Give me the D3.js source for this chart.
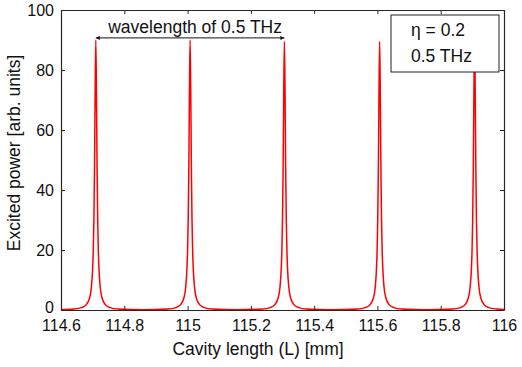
<!DOCTYPE html>
<html>
<head>
<meta charset="utf-8">
<script src="https://cdn.jsdelivr.net/npm/d3@7"></script>
<style>
  html, body { margin: 0; padding: 0; background: #fff; }
  svg { display: block; font-family: "Liberation Sans", Arial, Helvetica, sans-serif; }
</style>
</head>
<body>
<svg id="chart" width="522" height="367"></svg>
<script>
// ---- data ----
const cavityLength = [
  114.600,
  114.640, 114.665, 114.680, 114.690, 114.696, 114.700, 114.702, 114.704, 114.706, 114.708,
  114.710,
  114.712, 114.714, 114.716, 114.718, 114.720, 114.724, 114.730, 114.740, 114.755, 114.780,
  114.859,
  114.938, 114.963, 114.978, 114.988, 114.994, 114.998, 115.000, 115.002, 115.004, 115.006,
  115.008,
  115.010, 115.012, 115.014, 115.016, 115.018, 115.022, 115.028, 115.038, 115.053, 115.078,
  115.157,
  115.236, 115.261, 115.276, 115.286, 115.292, 115.296, 115.298, 115.300, 115.302, 115.304,
  115.306,
  115.308, 115.310, 115.312, 115.314, 115.316, 115.320, 115.326, 115.336, 115.351, 115.376,
  115.456,
  115.537, 115.562, 115.577, 115.587, 115.593, 115.597, 115.599, 115.601, 115.603, 115.605,
  115.607,
  115.609, 115.611, 115.613, 115.615, 115.617, 115.621, 115.627, 115.637, 115.652, 115.677,
  115.757,
  115.837, 115.862, 115.877, 115.887, 115.893, 115.897, 115.899, 115.901, 115.903, 115.905,
  115.907,
  115.909, 115.911, 115.913, 115.915, 115.917, 115.921, 115.927, 115.937, 115.952, 115.977,
  116.000
];
const excitedPower = [
  0.13,
  0.33, 0.8, 1.8, 3.9, 7.6, 13.8, 19.8, 30.1, 47.7, 73.7,
  90.0,
  73.7, 47.7, 30.1, 19.8, 13.8, 7.6, 3.9, 1.8, 0.8, 0.33,
  0.07,
  0.33, 0.8, 1.8, 3.9, 7.6, 13.8, 19.8, 30.1, 47.7, 73.7,
  90.0,
  73.7, 47.7, 30.1, 19.8, 13.8, 7.6, 3.9, 1.8, 0.8, 0.33,
  0.07,
  0.33, 0.8, 1.8, 3.9, 7.6, 13.7, 19.7, 29.9, 47.4, 73.3,
  89.5,
  73.3, 47.4, 29.9, 19.7, 13.7, 7.6, 3.9, 1.8, 0.8, 0.33,
  0.07,
  0.33, 0.8, 1.8, 3.9, 7.6, 13.7, 19.7, 29.9, 47.4, 73.3,
  89.5,
  73.3, 47.4, 29.9, 19.7, 13.7, 7.6, 3.9, 1.8, 0.8, 0.33,
  0.07,
  0.33, 0.8, 1.8, 3.9, 7.6, 13.7, 19.7, 29.9, 47.4, 73.3,
  89.5,
  73.3, 47.4, 29.9, 19.7, 13.7, 7.6, 3.9, 1.8, 0.8, 0.33,
  0.19
];
const xTicks = [114.6, 114.8, 115, 115.2, 115.4, 115.6, 115.8, 116];
const xTickLabels = ["114.6", "114.8", "115", "115.2", "115.4", "115.6", "115.8", "116"];
const yTicks = [0, 20, 40, 60, 80, 100];
const arrowSpan = [114.710, 115.306];   // peak-to-peak span annotated
const arrowLevel = [90.7];
const legendLines = ["\u03b7 = 0.2", "0.5 THz"];

// ---- layout ----
const svg = d3.select("#chart");
const m = { left: 61, right: 504, top: 10, bottom: 310 };
const x = d3.scaleLinear().domain([114.6, 116]).range([m.left, m.right]);
const y = d3.scaleLinear().domain([0, 100]).range([m.bottom, m.top]);
const axisColor = "#262626";
const tickLen = 4;
const labelSize = "17.5px";

const defs = svg.append("defs");
defs.append("clipPath").attr("id", "clip")
  .append("rect").attr("x", m.left).attr("y", m.top)
  .attr("width", m.right - m.left).attr("height", m.bottom - m.top);

// data line
const pts = cavityLength.map((v, i) => [v, excitedPower[i]]);
svg.append("path")
  .datum(pts)
  .attr("clip-path", "url(#clip)")
  .attr("fill", "none")
  .attr("stroke", "#ff0000")
  .attr("stroke-width", 1.5)
  .attr("stroke-linejoin", "round")
  .attr("d", d3.line().x(d => x(d[0])).y(d => y(d[1])).curve(d3.curveMonotoneX));

// axes (inward ticks, mirrored box)
const fmtX = (d, i) => xTickLabels[i];
const bottomAxis = d3.axisBottom(x).tickValues(xTicks).tickFormat(fmtX).tickSizeInner(-tickLen).tickSizeOuter(0).tickPadding(10);
const topAxis = d3.axisTop(x).tickValues(xTicks).tickFormat("").tickSizeInner(-tickLen).tickSizeOuter(0);
const leftAxis = d3.axisLeft(y).tickValues(yTicks).tickFormat(d3.format("d")).tickSizeInner(-tickLen).tickSizeOuter(0).tickPadding(7);
const rightAxis = d3.axisRight(y).tickValues(yTicks).tickFormat("").tickSizeInner(-tickLen).tickSizeOuter(0);

function styleAxis(g) {
  g.selectAll("path.domain").attr("stroke", axisColor).attr("stroke-width", 1.2);
  g.selectAll(".tick line").attr("stroke", axisColor).attr("stroke-width", 1);
  g.selectAll(".tick text").attr("fill", "#111").style("font-size", "16px")
    .style("font-family", "'Liberation Sans', Arial, Helvetica, sans-serif");
}
svg.append("g").attr("transform", `translate(0,${m.bottom})`).call(bottomAxis).call(styleAxis);
svg.append("g").attr("transform", `translate(0,${m.top})`).call(topAxis).call(styleAxis);
const gLeft = svg.append("g").attr("transform", `translate(${m.left},0)`).call(leftAxis).call(styleAxis);
// lift the "0" label a touch so it clears the first x label
gLeft.selectAll(".tick text").filter(d => d === 0).attr("dy", "0.15em");
svg.append("g").attr("transform", `translate(${m.right},0)`).call(rightAxis).call(styleAxis);

// axis labels
svg.append("text")
  .attr("x", 258).attr("y", 355)
  .attr("text-anchor", "middle")
  .attr("fill", "#111").style("font-size", labelSize)
  .text("Cavity length (L) [mm]");
svg.append("text")
  .attr("transform", "translate(20,153) rotate(-90)")
  .attr("text-anchor", "middle")
  .attr("fill", "#111").style("font-size", labelSize)
  .text("Excited power [arb. units]");

// arrow annotation
defs.append("marker").attr("id", "ah").attr("viewBox", "0 0 10 10")
  .attr("refX", 10).attr("refY", 5).attr("markerWidth", 6).attr("markerHeight", 4)
  .attr("markerUnits", "userSpaceOnUse").attr("orient", "auto-start-reverse")
  .append("path").attr("d", "M0,0 L10,5 L0,10 z").attr("fill", "#111");
svg.append("line")
  .attr("x1", x(arrowSpan[0])).attr("x2", x(arrowSpan[1]))
  .attr("y1", y(arrowLevel[0])).attr("y2", y(arrowLevel[0]))
  .attr("stroke", "#111").attr("stroke-width", 1)
  .attr("marker-start", "url(#ah)").attr("marker-end", "url(#ah)");
svg.append("text")
  .attr("x", (x(arrowSpan[0]) + x(arrowSpan[1])) / 2 + 5).attr("y", 32.5)
  .attr("text-anchor", "middle")
  .attr("fill", "#111").style("font-size", labelSize)
  .text("wavelength of 0.5 THz");

// legend box
svg.append("rect")
  .attr("x", 391).attr("y", 15).attr("width", 108).attr("height", 57)
  .attr("fill", "#fff").attr("stroke", "#222").attr("stroke-width", 1);
svg.selectAll("text.leg").data(legendLines).enter().append("text")
  .attr("class", "leg")
  .attr("x", 411).attr("y", (d, i) => 36 + i * 25.5)
  .attr("fill", "#111").style("font-size", labelSize)
  .text(d => d);
</script>
</body>
</html>
